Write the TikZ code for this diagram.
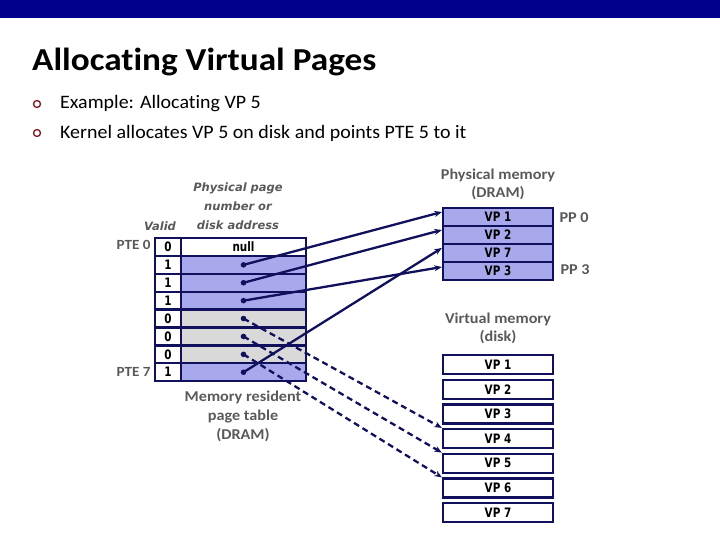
\documentclass[tikz,border=0pt]{standalone}
\usepackage{fontspec}
\setmainfont{Carlito}[Ligatures=NoCommon]
\newfontfamily\titlefont{Carlito}[Ligatures=NoCommon, FakeStretch=1.1]
\newfontfamily\bodyfont{Carlito}[Ligatures=NoCommon, FakeStretch=1.05]
\newfontfamily\capfont{Carlito}[Ligatures=NoCommon, FakeStretch=1.08]
\newfontfamily\cellfont{DejaVu Sans}[FakeStretch=0.8]
\newfontfamily\headfont{DejaVu Sans}
\usetikzlibrary{arrows.meta}

\definecolor{barblue}{RGB}{0,0,140}
\definecolor{navy}{RGB}{16,16,92}
\definecolor{lavender}{RGB}{168,168,236}
\definecolor{cellgray}{RGB}{217,217,217}
\definecolor{labelgray}{RGB}{89,89,89}
\definecolor{bulletred}{RGB}{128,20,30}

\tikzset{
  cell/.style={draw=navy, line width=2.3pt, minimum height=17.9pt, inner sep=0pt,
    font=\cellfont\bfseries\fontsize{13}{14}\selectfont},
  validcell/.style={cell, fill=white, minimum width=26pt},
  addrcell/.style={cell, minimum width=125pt},
  memcell/.style={cell, fill=lavender, minimum width=110pt, minimum height=18pt},
  diskcell/.style={cell, fill=white, minimum width=110pt, minimum height=19pt},
  caption/.style={font=\capfont\bfseries\fontsize{15}{18}\selectfont, text=labelgray, align=center},
  colhead/.style={font=\headfont\bfseries\itshape\fontsize{11.5}{19}\selectfont, text=labelgray, align=center},
  ptr/.style={navy, line width=2.3pt, -{Stealth[length=7.5pt,width=6pt]}},
  diskptr/.style={ptr, dash pattern=on 6pt off 4pt},
  bulletmark/.style={draw=bulletred, line width=1.3pt},
}

\begin{document}
\begin{tikzpicture}[x=1pt,y=-1pt]
  \useasboundingbox (0,0) rectangle (720,540);
  \fill[barblue] (0,0) rectangle (720,18);

  \node[anchor=base west, inner xsep=0pt, font=\titlefont\bfseries\fontsize{32}{36}\selectfont] (title) at (32,71) {Allocating Virtual Pages};
  \draw[bulletmark] (37,104) circle (3.5);
  \draw[bulletmark] (37,133) circle (3.5);
  \node[anchor=west, inner xsep=0pt, font=\bodyfont\fontsize{19}{22}\selectfont] (item1) at (60,104) {Example: Allocating VP 5};
  \node[anchor=west, inner xsep=0pt, font=\bodyfont\fontsize{19}{22}\selectfont] (item2) at (60,133) {Kernel allocates VP 5 on disk and points PTE 5 to it};

  % page table
  \foreach \v/\f [count=\i from 0] in {0/white,1/lavender,1/lavender,1/lavender,0/cellgray,0/cellgray,0/cellgray,1/lavender} {
    \node[validcell] (v\i) at (168,{246.95+17.9*\i}) {\v};
    \node[addrcell, fill=\f] (a\i) at (243.5,{246.95+17.9*\i}) {};
  }
  \node[font=\cellfont\bfseries\fontsize{13}{14}\selectfont] (nulltxt) at (a0) {null};
  \node[colhead, font=\headfont\bfseries\itshape\fontsize{11.5}{13}\selectfont] (validhead) at (160,226) {Valid};
  \node[colhead] (addrhead) at (238,206) {Physical page\\number or\\disk address};
  \node[caption, font=\capfont\bfseries\fontsize{14}{18}\selectfont, anchor=east] (pte0) at (154,245) {PTE 0};
  \node[caption, font=\capfont\bfseries\fontsize{14}{18}\selectfont, anchor=east] (pte7) at (154,372) {PTE 7};
  \node[caption, font=\capfont\bfseries\fontsize{15}{19}\selectfont] (ptcap) at (243,416) {Memory resident\\page table\\(DRAM)};

  % physical memory
  \foreach \t [count=\i] in {VP 1,VP 2,VP 7,VP 3}
    \node[memcell] (pm\i) at (498,{199+18*\i}) {\t};
  \node[caption] (pmcap) at (498,184) {Physical memory\\(DRAM)};
  \node[caption, anchor=west] (pp0) at (556,218) {PP 0};
  \node[caption, anchor=west] (pp3) at (557,270) {PP 3};

  % virtual memory on disk
  \foreach \i in {1,...,7}
    \node[diskcell] (vd\i) at (498,{339.8+24.7*\i}) {VP \i};
  \node[caption] (vdcap) at (498,328) {Virtual memory\\(disk)};

  % pointers
  \draw[ptr] (a1.center) -- ([yshift=5pt]pm1.west);
  \draw[ptr] (a2.center) -- ([yshift=5pt]pm2.west);
  \draw[ptr] (a3.center) -- ([yshift=4pt]pm4.west);
  \draw[ptr] (a7.center) -- ([yshift=5pt]pm3.west);
  \draw[diskptr] (a4.center) -- (vd4.north west);
  \draw[diskptr] (a5.center) -- (vd5.north west);
  \draw[diskptr] (a6.center) -- (vd6.north west);
  \foreach \i in {1,...,7}
    \fill[navy] (a\i) circle (2.8);
\end{tikzpicture}
\end{document}
